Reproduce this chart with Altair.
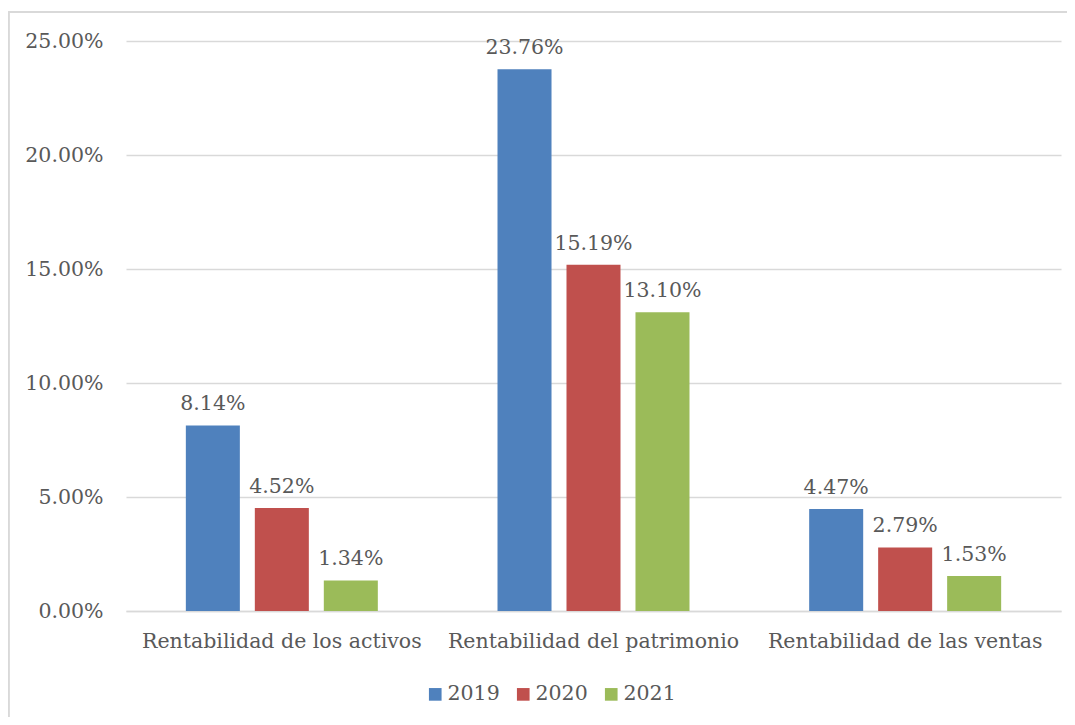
import altair as alt
import pandas as pd

categories = ["Rentabilidad de los activos", "Rentabilidad del patrimonio", "Rentabilidad de las ventas"]
years = ["2019", "2020", "2021"]
v2019 = [0.0814, 0.2376, 0.0447]
v2020 = [0.0452, 0.1519, 0.0279]
v2021 = [0.0134, 0.1310, 0.0153]
colors = ["#4f81bd", "#c0504d", "#9bbb59"]

rows = []
for yr, vals in zip(years, [v2019, v2020, v2021]):
    for c, v in zip(categories, vals):
        rows.append({"cat": c, "year": yr, "value": v})
df = pd.DataFrame(rows)

FONT = "DejaVu Serif"
FS = 20.5
TXT = "#595959"
GRID = "#d9d9d9"

base = alt.Chart(df).encode(
    x=alt.X("cat:N", sort=categories, title=None,
            scale=alt.Scale(paddingInner=0.384, paddingOuter=0.192),
            axis=alt.Axis(labelAngle=0, labelFont=FONT, labelFontSize=FS, labelColor=TXT,
                          labelLimit=0, ticks=False, domainColor=GRID, domainWidth=1.5,
                          labelPadding=20)),
    xOffset=alt.XOffset("year:N", sort=years,
                        scale=alt.Scale(paddingInner=0.217, paddingOuter=0)),
)

bars = base.mark_bar().encode(
    y=alt.Y("value:Q", title=None,
            scale=alt.Scale(domain=[0, 0.25], nice=False),
            axis=alt.Axis(format=".2%", values=[0, 0.05, 0.10, 0.15, 0.20, 0.25],
                          labelFont=FONT, labelFontSize=FS, labelColor=TXT,
                          ticks=False, domain=False, gridColor=GRID, gridWidth=1.5,
                          labelPadding=23)),
    color=alt.Color("year:N", sort=years, title=None,
                    scale=alt.Scale(domain=years, range=colors),
                    legend=alt.Legend(orient="none", direction="horizontal",
                                      legendX=299, legendY=643,
                                      symbolType="square", symbolSize=160,
                                      symbolStrokeWidth=0,
                                      labelFont=FONT, labelFontSize=FS, labelColor=TXT,
                                      columnPadding=13, labelOffset=2)),
)

labels = base.mark_text(font=FONT, fontSize=FS, color=TXT, baseline="bottom", dy=-11).encode(
    y="value:Q",
    text=alt.Text("value:Q", format=".2%"),
)

border_left = alt.Chart(df).mark_rule(color=GRID, strokeWidth=1.5).encode(
    x=alt.value(-117.5), y=alt.value(-29), y2=alt.value(700))
border_top = alt.Chart(df).mark_rule(color=GRID, strokeWidth=1.5).encode(
    x=alt.value(-117.5), x2=alt.value(960), y=alt.value(-29))

chart = alt.layer(bars, labels, border_left, border_top).properties(
    width=935, height=570,
    autosize=alt.AutoSizeParams(type="none"),
    padding={"left": 118, "top": 33, "right": 6, "bottom": 106},
    background="white",
).configure_view(stroke=None)

chart.save("out.html", embed_options={"renderer": "svg", "actions": False})
